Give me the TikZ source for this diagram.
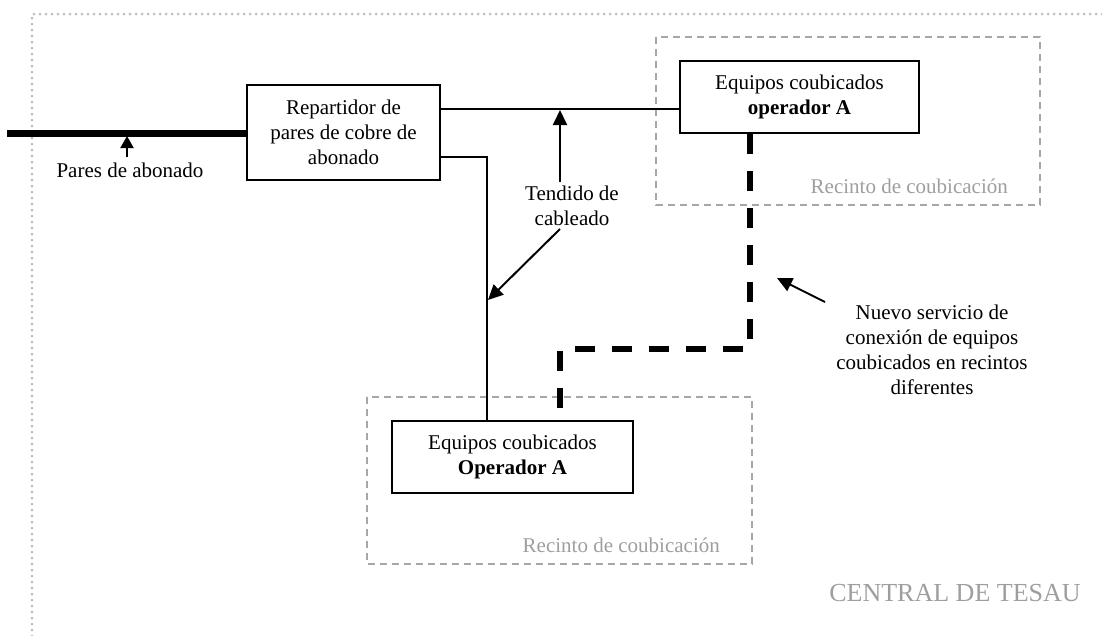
\documentclass[tikz,border=0pt]{standalone}
\usepackage{fontspec}
\setmainfont{Liberation Serif}
\usetikzlibrary{arrows.meta}
\definecolor{framegray}{HTML}{BDBDBD}
\definecolor{recgray}{HTML}{A6A6A6}
\definecolor{labgray}{HTML}{9E9E9E}
\tikzset{
  box/.style={draw=black, line width=2pt, fill=white, align=center, inner sep=0pt,
              font=\fontsize{21}{25}\selectfont},
  recinto/.style={draw=recgray, line width=1.6pt, dash pattern=on 7pt off 5pt},
  thin/.style={line width=1.5pt},
  thickdash/.style={line width=6pt, dash pattern=on 20pt off 17pt},
  lbl/.style={align=center, inner sep=0pt, font=\fontsize{21}{25}\selectfont},
  reclbl/.style={anchor=east, inner sep=0pt, text=labgray, font=\fontsize{21}{25}\selectfont},
  arr/.style={line width=2pt, -{Triangle[length=15pt,width=14pt]}},
  sarr/.style={line width=2pt, -{Triangle[length=12pt,width=13pt]}},
}
\begin{document}
\begin{tikzpicture}[x=1pt,y=-1pt]
\useasboundingbox (0,0) rectangle (1102,635);
% outer dotted frame
\draw[framegray, line width=3pt, line cap=round, dash pattern=on 0pt off 6pt]
  (1102,14) -- (32,14) -- (32,640);
% recintos
\draw[recinto] (656,37) rectangle (1040,205);
\draw[recinto] (367,397) rectangle (752,564);
\node[reclbl] (rlA) at (1008,186) {Recinto de coubicación};
\node[reclbl] (rlB) at (720,545) {Recinto de coubicación};
% boxes
\node[box, minimum width=193pt, minimum height=95pt] (rep) at (343.5,132.5)
  {Repartidor de\\pares de cobre de\\abonado};
\node[box, minimum width=239pt, minimum height=72pt] (eqA) at (799.5,97)
  {Equipos coubicados\\\textbf{operador A}};
\node[box, minimum width=241pt, minimum height=72pt] (eqB) at (512.5,457)
  {Equipos coubicados\\\textbf{Operador A}};
% subscriber pairs
\coordinate (in) at (7,133);
\draw[line width=7pt] (in) -- (rep.west |- 0,133);
\node[lbl] (pares) at (130,170) {Pares de abonado};
\coordinate (paresTail) at (127,157);
\coordinate (paresTip) at (127,136);
\draw[sarr] (paresTail) -- (paresTip);
% cabling
\draw[thin] (rep.east |- 0,109) -- (eqA.west |- 0,109);
\draw[thin] (rep.east |- 0,157) -| (eqB.north -| 487,0);
% new service dashed
\draw[thickdash] (eqA.south -| 750,0) |- (560,349) -- (eqB.north -| 560,0);
% tendido label and arrows
\node[lbl] (tend) at (572,206) {Tendido de\\cableado};
\coordinate (t1tail) at (560,182);
\coordinate (t1tip) at (560,110);
\draw[arr] (t1tail) -- (t1tip);
\coordinate (t2tail) at (560,229);
\coordinate (t2tip) at (488,300);
\draw[arr] (t2tail) -- (t2tip);
% nuevo servicio
\node[lbl] (nuevo) at (932,350) {Nuevo servicio de\\conexión de equipos\\coubicados en recintos\\diferentes};
\coordinate (ntail) at (825,302);
\coordinate (ntip) at (777,278);
\draw[arr] (ntail) -- (ntip);
% central
\node[inner sep=0pt, text=labgray, font=\fontsize{26}{30}\selectfont] (central) at (955,593) {CENTRAL DE TESAU};
\end{tikzpicture}
\end{document}
